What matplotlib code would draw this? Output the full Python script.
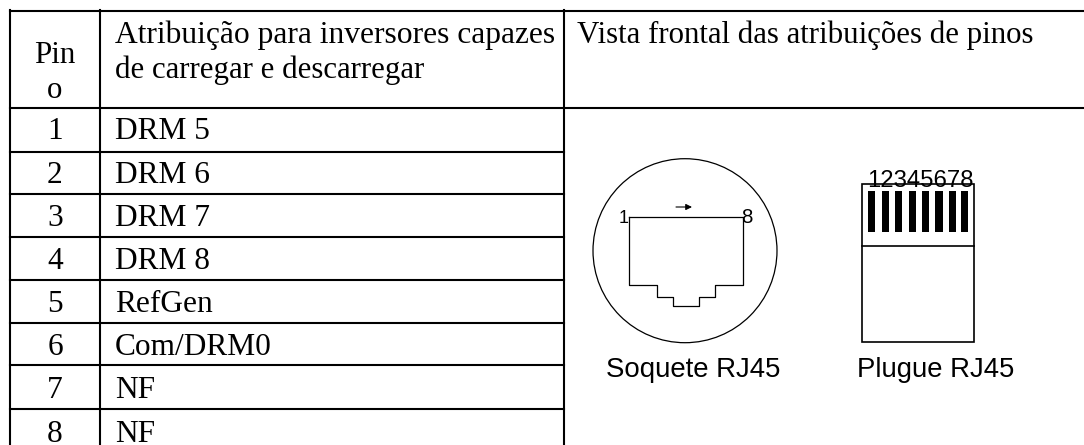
import matplotlib
matplotlib.use("Agg")
import matplotlib.pyplot as plt
from matplotlib.patches import Circle, Rectangle

WIDTH, HEIGHT = 1084, 445

pins = ["1", "2", "3", "4", "5", "6", "7", "8"]
assignments = ["DRM 5", "DRM 6", "DRM 7", "DRM 8", "RefGen", "Com/DRM0", "NF", "NF"]
header_pin = ["Pin", "o"]
header_assign = ["Atribuição para inversores capazes", "de carregar e descarregar"]
header_view = "Vista frontal das atribuições de pinos"
socket_label = "Soquete RJ45"
plug_label = "Plugue RJ45"
plug_numbers = "12345678"

row_lines = [108, 151.7, 193.7, 236.7, 280, 322.7, 365.3, 408.7]
row_base = [139.3, 182.7, 226, 269, 311.7, 355, 398.3, 441.7]
bar_lefts = [868, 881.7, 895, 908.7, 922, 935.3, 948.7, 960.7]

fig = plt.figure(figsize=(WIDTH / 100, HEIGHT / 100), dpi=100)
ax = fig.add_axes([0, 0, 1, 1])
ax.set_xlim(0, WIDTH)
ax.set_ylim(HEIGHT, 0)
ax.axis("off")

serif = "Liberation Serif"
sans = "Liberation Sans"
fs = 22.2
row_fs = 22.6

# table grid
ax.plot([10, 10], [10, 445], color="k", lw=1.5)
ax.plot([100, 100], [10, 445], color="k", lw=1.5)
ax.plot([563.5, 563.5], [10, 445], color="k", lw=1.5)
ax.plot([10, 1084], [11, 11], color="k", lw=1.5)
ax.plot([10, 1084], [108, 108], color="k", lw=1.5)
for y in row_lines[1:]:
    ax.plot([10, 563.5], [y, y], color="k", lw=1.5)

# header
ax.text(55, 63, header_pin[0], family=serif, fontsize=fs, ha="center", va="baseline")
ax.text(55, 98, header_pin[1], family=serif, fontsize=fs, ha="center", va="baseline")
ax.text(115, 42.7, header_assign[0], family=serif, fontsize=22.7, ha="left", va="baseline")
ax.text(115, 78, header_assign[1], family=serif, fontsize=fs, ha="left", va="baseline")
ax.text(577, 42.5, header_view, family=serif, fontsize=fs, ha="left", va="baseline")

# rows
for y, pin, name in zip(row_base, pins, assignments):
    ax.text(55, y, pin, family=serif, fontsize=row_fs, ha="center", va="baseline")
    ax.text(115, y, name, family=serif, fontsize=row_fs, ha="left", va="baseline")

# socket
ax.add_patch(Circle((685, 250.7), 92, fill=False, ec="k", lw=0.9))
socket_x = [628.7, 628.7, 657, 657, 672.7, 672.7, 698.7, 698.7, 715.3, 715.3, 743, 743, 628.7]
socket_y = [216.7, 284.7, 284.7, 296.7, 296.7, 306, 306, 296.7, 296.7, 284.7, 284.7, 216.7, 216.7]
ax.plot(socket_x, socket_y, color="k", lw=0.9)
ax.text(623.5, 222.7, "1", family=sans, fontsize=13, ha="center", va="baseline")
ax.text(746.7, 223, "8", family=sans, fontsize=14.7, ha="center", va="baseline")
ax.annotate("", xy=(692, 207), xytext=(676, 207),
            arrowprops=dict(arrowstyle="-|>", color="k", lw=0.8, mutation_scale=9, shrinkA=0, shrinkB=0))
ax.text(693, 376.7, socket_label, family=sans, fontsize=19.9, ha="center", va="baseline")

# plug
ax.add_patch(Rectangle((862, 184), 112.3, 157.7, fill=False, ec="k", lw=1.2))
ax.plot([862, 974.3], [245.7, 245.7], color="k", lw=1.2)
for left in bar_lefts:
    ax.add_patch(Rectangle((left, 190.7), 7.4, 41.3, fc="k", ec="none"))
ax.text(920, 187, plug_numbers, family=sans, fontsize=17.2, ha="center", va="baseline")
ax.text(936, 376.7, plug_label, family=sans, fontsize=19.8, ha="center", va="baseline")

fig.savefig("out.png", dpi=100)
